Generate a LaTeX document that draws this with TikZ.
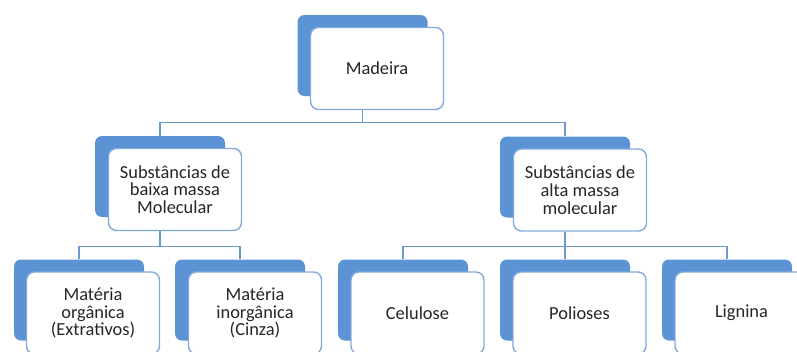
\documentclass[tikz,border=0pt]{standalone}
\usepackage{fontspec}
\setmainfont{Carlito}
\definecolor{backblue}{HTML}{5B93D4}
\definecolor{edgeblue}{HTML}{84AADB}
\definecolor{linkblue}{HTML}{6A98D0}
\definecolor{txt}{HTML}{262626}
\tikzset{
  backbox/.style={fill=backblue, rounded corners=7pt, minimum width=130pt, minimum height=81pt, inner sep=0pt},
  frontbox/.style={draw=edgeblue, line width=1.4pt, fill=white, rounded corners=8pt, minimum width=133pt, minimum height=82pt, inner sep=0pt, align=center, text=txt, font=\fontsize{18.4}{17.8}\selectfont},
  conn/.style={draw=linkblue, line width=1.3pt}
}
\begin{document}
\begin{tikzpicture}[x=1pt,y=-1pt]
\useasboundingbox (0,0) rectangle (797,351);
\clip (0,0) rectangle (797,351);
% back shapes
\node[backbox] (madb) at (362.5,55.5) {};
\node[backbox] (lowb) at (160,176.5) {};
\node[backbox] (highb) at (565,177) {};
\node[backbox] (b1b) at (79,300) {};
\node[backbox] (b2b) at (240,300) {};
\node[backbox] (b3b) at (403,300) {};
\node[backbox] (b4b) at (565,300) {};
\node[backbox] (b5b) at (727,300) {};
% front boxes
\node[frontbox] (mad) at (377,68.5) {Madeira};
\node[frontbox] (low) at (175,189.5) {Substâncias de\\baixa massa\\Molecular};
\node[frontbox] (high) at (580,190) {Substâncias de\\alta massa\\molecular};
\node[frontbox] (b1) at (93,313) {Matéria\\orgânica\\(Extrativos)};
\node[frontbox] (b2) at (255,313) {Matéria\\inorgânica\\(Cinza)};
\node[frontbox] (b3) at (417.5,313) {Celulose};
\node[frontbox] (b4) at (579.5,313) {Polioses};
\node[frontbox] (b5) at (741.5,313) {Lignina};
% bus levels
\coordinate (bus1) at (0,122.5);
\coordinate (bus2) at (0,246.5);
% connectors
\draw[conn] (mad.south -| madb.center) -- (madb.center |- bus1);
\draw[conn] (lowb.north) -- (lowb.north |- bus1) -- (highb.north |- bus1) -- (highb.north);
\draw[conn] (low.south -| lowb.center) -- (lowb.center |- bus2);
\draw[conn] (b1b.north) -- (b1b.north |- bus2) -- (b2b.north |- bus2) -- (b2b.north);
\draw[conn] (high.south -| highb.center) -- (highb.center |- bus2);
\draw[conn] (b3b.north) -- (b3b.north |- bus2) -- (b5b.north |- bus2) -- (b5b.north);
\draw[conn] (b4b.north |- bus2) -- (b4b.north);
\end{tikzpicture}
\end{document}
